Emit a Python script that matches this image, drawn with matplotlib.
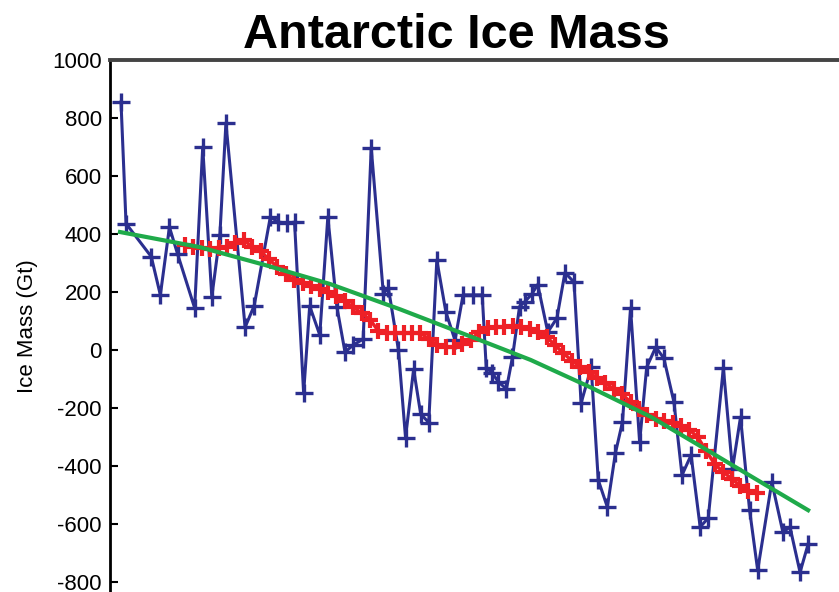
import matplotlib
matplotlib.use("Agg")
import matplotlib.pyplot as plt
import numpy as np

plt.rcParams['font.family'] = ['Liberation Sans', 'DejaVu Sans']
plt.rcParams['axes.unicode_minus'] = False

# monthly GRACE estimates (decimal year, Gt)
blue_t = [2002.29, 2002.34, 2002.59, 2002.68, 2002.77, 2002.85, 2003.02, 2003.10,
          2003.19, 2003.27, 2003.33, 2003.52, 2003.61, 2003.77, 2003.85, 2003.94,
          2004.01, 2004.10, 2004.16, 2004.26, 2004.34, 2004.43, 2004.51, 2004.59,
          2004.69, 2004.77, 2004.89, 2004.94, 2005.04, 2005.11, 2005.19, 2005.26,
          2005.34, 2005.42, 2005.51, 2005.60, 2005.68, 2005.78, 2005.87, 2005.91,
          2005.97, 2006.03, 2006.11, 2006.17, 2006.24, 2006.29, 2006.36, 2006.42,
          2006.52, 2006.61, 2006.69, 2006.78, 2006.85, 2006.95, 2007.02, 2007.11,
          2007.19, 2007.26, 2007.34, 2007.43, 2007.50, 2007.59, 2007.67, 2007.77,
          2007.85, 2007.94, 2008.03, 2008.11, 2008.26, 2008.35, 2008.43, 2008.52,
          2008.60, 2008.74, 2008.85, 2008.92, 2009.02, 2009.10]
blue_v = [855, 436, 322, 190, 424, 332, 145, 700,
          183, 397, 783, 79, 153, 459, 441, 438,
          441, -148, 152, 52, 459, 148, -7, 17,
          38, 697, 195, 214, 0, -302, -66, -220,
          -250, 310, 131, 34, 190, 190, 190, -62,
          -79, -110, -134, -24, 150, 166, 192, 226,
          62, 110, 267, 234, -183, -60, -448, -541,
          -355, -248, 145, -317, -59, 10, -28, -179,
          -431, -362, -610, -579, -62, -410, -231, -552,
          -759, -455, -628, -610, -766, -669]

# smoothed series, monthly from late 2002
red_start = 2002.924
red_v = [362, 356, 351, 350, 352, 355, 369, 378, 357, 340,
         313, 286, 262, 240, 231, 220, 209, 199, 186, 168,
         148, 128, 105, 66, 60, 59, 59, 59, 59, 38,
         17, 11, 10, 22, 36, 63, 76, 79, 80, 84,
         80, 72, 63, 45, 18, -11, -36, -57, -77, -95,
         -115, -134, -153, -179, -202, -223, -238, -246, -251, -263,
         -275, -301, -348, -393, -420, -443, -467, -486, -493]
red_t = red_start + np.arange(len(red_v)) / 12.0

# trend curve
green_t = [2002.28, 2003.07, 2003.72, 2004.36, 2005.06, 2005.85, 2006.35,
           2006.94, 2007.54, 2008.10, 2008.63, 2009.10]
green_v = [407, 355, 293, 228, 140, 34, -34, -128, -230, -345, -455, -552]

fig = plt.figure(figsize=(8.39, 5.92), dpi=100)
ax = fig.add_axes([110/839, 0, 729/839, 532/592])

ax.plot(blue_t, blue_v, '-+', color='#2b2f8f', lw=2.2, ms=13, mew=2.4)
ax.plot(red_t, red_v, '-+', color='#ee2026', lw=2.5, ms=12, mew=3)
ax.plot(green_t, green_v, '-', color='#1faa4a', lw=3)

ax.set_xlim(2002.181, 2009.406)
ax.set_ylim(-834, 1000)
ax.set_yticks(np.arange(-800, 1001, 200))
ax.set_xticks([])
ax.tick_params(axis='y', direction='in', length=6, width=1.5, labelsize=16, pad=6)
for s in ['right', 'bottom']:
    ax.spines[s].set_visible(False)
ax.spines['left'].set_linewidth(2)
ax.spines['top'].set_linewidth(2.8)
ax.spines['top'].set_color('#444444')
ax.set_ylabel('Ice Mass (Gt)', fontsize=16, labelpad=10)

fig.text(456/839, 1 - 35/592, 'Antarctic Ice Mass', ha='center', va='center',
         fontsize=35, fontweight='bold')

fig.savefig('out.png', dpi=100)
